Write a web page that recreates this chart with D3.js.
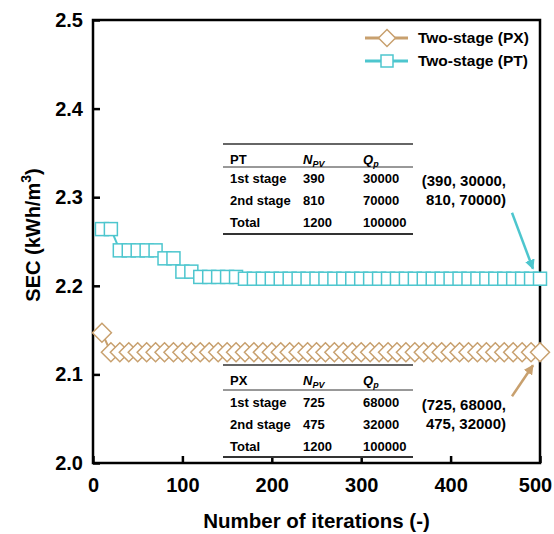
<!DOCTYPE html>
<head>
  <meta charset="utf-8">
  <script src="https://d3js.org/d3.v7.min.js"></script>
  <style>
body { margin: 0; background: #fff; }
text { font-family: "Liberation Sans", Arial, sans-serif; font-weight: bold; fill: #000; }
.tick text { font-size: 20px; }
.tbl text { font-size: 13px; }
.note { font-size: 15px; }
  </style>
</head>
<body>
  <script>
    // data
    var iterations = [10, 20, 30, 40, 50, 60, 70, 80, 90, 100,
                      110, 120, 130, 140, 150, 160, 170, 180, 190, 200,
                      210, 220, 230, 240, 250, 260, 270, 280, 290, 300,
                      310, 320, 330, 340, 350, 360, 370, 380, 390, 400,
                      410, 420, 430, 440, 450, 460, 470, 480, 490, 500];
    var secPX = [2.147, 2.125, 2.125, 2.125, 2.125, 2.125, 2.125, 2.125, 2.125, 2.125,
                 2.125, 2.125, 2.125, 2.125, 2.125, 2.125, 2.125, 2.125, 2.125, 2.125,
                 2.125, 2.125, 2.125, 2.125, 2.125, 2.125, 2.125, 2.125, 2.125, 2.125,
                 2.125, 2.125, 2.125, 2.125, 2.125, 2.125, 2.125, 2.125, 2.125, 2.125,
                 2.125, 2.125, 2.125, 2.125, 2.125, 2.125, 2.125, 2.125, 2.125, 2.125];
    var secPT = [2.264, 2.264, 2.240, 2.240, 2.240, 2.240, 2.240, 2.231, 2.231, 2.216,
                 2.216, 2.210, 2.210, 2.210, 2.210, 2.210, 2.208, 2.208, 2.208, 2.208,
                 2.208, 2.208, 2.208, 2.208, 2.208, 2.208, 2.208, 2.208, 2.208, 2.208,
                 2.208, 2.208, 2.208, 2.208, 2.208, 2.208, 2.208, 2.208, 2.208, 2.208,
                 2.208, 2.208, 2.208, 2.208, 2.208, 2.208, 2.208, 2.208, 2.208, 2.208];
    var seriesNames = ["Two-stage (PX)", "Two-stage (PT)"];
    var xTicks = [0, 100, 200, 300, 400, 500];
    var yTicks = [2.0, 2.1, 2.2, 2.3, 2.4, 2.5];

    var ptRows = [["1st stage", "390", "30000"], ["2nd stage", "810", "70000"], ["Total", "1200", "100000"]];
    var pxRows = [["1st stage", "725", "68000"], ["2nd stage", "475", "32000"], ["Total", "1200", "100000"]];
    var ptNote = ["(390, 30000,", "810, 70000)"];
    var pxNote = ["(725, 68000,", "475, 32000)"];

    var cPX = "#c8a06e", cPT = "#4dc6ce";

    var svg = d3.select("body").append("svg")
      .attr("width", 554)
      .attr("height", 534);

    var x = d3.scaleLinear().domain([0, 500]).range([93, 540]);
    var y = d3.scaleLinear().domain([2.0, 2.5]).range([463, 20]);

    // axes, ticks pointing inward
    svg.append("g")
      .attr("transform", "translate(0,463)")
      .call(d3.axisBottom(x).tickValues(xTicks).tickSizeInner(-7).tickSizeOuter(0).tickPadding(15))
      .call(g => g.select(".domain").remove())
      .call(g => g.selectAll("line").attr("stroke-width", 2.5))
      .call(g => g.selectAll(".tick text").filter(d => d === 500).attr("dx", -5));
    svg.append("g")
      .attr("transform", "translate(93,0)")
      .call(d3.axisLeft(y).tickValues(yTicks).tickFormat(d3.format(".1f")).tickSizeInner(-7).tickSizeOuter(0).tickPadding(10))
      .call(g => g.select(".domain").remove())
      .call(g => g.selectAll("line").attr("stroke-width", 2.5));

    svg.append("rect")
      .attr("x", x(0)).attr("y", y(2.5))
      .attr("width", x(500) - x(0)).attr("height", y(2.0) - y(2.5))
      .attr("fill", "none").attr("stroke", "#000").attr("stroke-width", 2.5);

    // axis titles
    svg.append("text")
      .attr("x", (x(0) + x(500)) / 2).attr("y", 528)
      .attr("text-anchor", "middle").style("font-size", "20.5px")
      .text("Number of iterations (-)");
    var yl = svg.append("text")
      .attr("transform", "translate(40,235) rotate(-90)")
      .attr("text-anchor", "middle").style("font-size", "20px");
    yl.append("tspan").text("SEC (kWh/m");
    yl.append("tspan").attr("dy", -9).style("font-size", "14px").text("3");
    yl.append("tspan").attr("dy", 9).text(")");

    // tables
    function drawTable(top, headLine, bottom, rowY, label, rows) {
      var g = svg.append("g").attr("class", "tbl");
      [[top, 1.6], [headLine, 1], [bottom, 1.8]].forEach(function(l) {
        g.append("line").attr("x1", 223).attr("x2", 413)
          .attr("y1", l[0]).attr("y2", l[0])
          .attr("stroke", "#333").attr("stroke-width", l[1]);
      });
      var colX = [230, 303, 363];
      g.append("text").attr("x", colX[0]).attr("y", rowY[0]).attr("dy", ".35em").text(label);
      var n = g.append("text").attr("x", colX[1]).attr("y", rowY[0]).attr("dy", ".35em").style("font-style", "italic");
      n.append("tspan").text("N");
      n.append("tspan").attr("dy", 3).style("font-size", "9px").text("PV");
      var q = g.append("text").attr("x", colX[2]).attr("y", rowY[0]).attr("dy", ".35em").style("font-style", "italic");
      q.append("tspan").text("Q");
      q.append("tspan").attr("dy", 3).style("font-size", "9px").text("p");
      rows.forEach(function(r, i) {
        r.forEach(function(cell, j) {
          g.append("text").attr("x", colX[j]).attr("y", rowY[i + 1]).attr("dy", ".35em").text(cell);
        });
      });
    }
    drawTable(144, 167, 234, [159, 178, 200, 222], "PT", ptRows);
    drawTable(365, 390, 457, [380, 402, 424, 446], "PX", pxRows);

    // series
    var ptData = iterations.map((d, i) => ({ it: d, v: secPT[i] }));
    var pxData = iterations.map((d, i) => ({ it: d, v: secPX[i] }));
    var line = d3.line().x(d => x(d.it)).y(d => y(d.v));

    svg.append("path").datum(ptData).attr("d", line)
      .attr("fill", "none").attr("stroke", cPT).attr("stroke-width", 2);
    svg.selectAll(".pt").data(ptData).enter().append("rect")
      .attr("class", "pt")
      .attr("x", d => x(d.it) - 6.5).attr("y", d => y(d.v) - 6.5)
      .attr("width", 13).attr("height", 13)
      .attr("fill", "#fff").attr("stroke", cPT).attr("stroke-width", 1.5);

    svg.append("path").datum(pxData).attr("d", line)
      .attr("fill", "none").attr("stroke", cPX).attr("stroke-width", 2);
    var diamond = "M0,-9.5L9.5,0L0,9.5L-9.5,0Z";
    svg.selectAll(".px").data(pxData).enter().append("path")
      .attr("class", "px")
      .attr("transform", d => "translate(" + x(d.it) + "," + y(d.v) + ")")
      .attr("d", diamond)
      .attr("fill", "#fff").attr("stroke", cPX).attr("stroke-width", 1.5);

    // legend
    var legend = svg.append("g");
    [[38, cPX, "diamond"], [61, cPT, "square"]].forEach(function(l, i) {
      legend.append("line").attr("x1", 365).attr("x2", 408).attr("y1", l[0]).attr("y2", l[0])
        .attr("stroke", l[1]).attr("stroke-width", 3);
      if (l[2] === "diamond") {
        legend.append("path").attr("transform", "translate(387," + l[0] + ")")
          .attr("d", "M0,-8.5L8.5,0L0,8.5L-8.5,0Z")
          .attr("fill", "#fff").attr("stroke", l[1]).attr("stroke-width", 1.5);
      } else {
        legend.append("rect").attr("x", 381).attr("y", l[0] - 6).attr("width", 12).attr("height", 12)
          .attr("fill", "#fff").attr("stroke", l[1]).attr("stroke-width", 1.5);
      }
      legend.append("text").attr("x", 418).attr("y", l[0]).attr("dy", ".35em")
        .style("font-size", "15.5px").text(seriesNames[i]);
    });

    // annotations with arrows
    var defs = svg.append("defs");
    [["headPT", cPT], ["headPX", cPX]].forEach(function(m) {
      defs.append("marker").attr("id", m[0])
        .attr("viewBox", "0 0 10 10").attr("refX", 9).attr("refY", 5)
        .attr("markerWidth", 4).attr("markerHeight", 4).attr("orient", "auto")
        .append("path").attr("d", "M0,0L10,5L0,10Z").attr("fill", m[1]);
    });
    var lastPT = ptData[ptData.length - 1], lastPX = pxData[pxData.length - 1];
    svg.append("line")
      .attr("x1", x(lastPT.it) - 28).attr("y1", y(lastPT.v) - 66)
      .attr("x2", x(lastPT.it) - 7).attr("y2", y(lastPT.v) - 10)
      .attr("stroke", cPT).attr("stroke-width", 2.5).attr("marker-end", "url(#headPT)");
    svg.append("line")
      .attr("x1", x(lastPX.it) - 28).attr("y1", y(lastPX.v) + 44)
      .attr("x2", x(lastPX.it) - 7).attr("y2", y(lastPX.v) + 13)
      .attr("stroke", cPX).attr("stroke-width", 2.5).attr("marker-end", "url(#headPX)");

    [[ptNote, 181], [pxNote, 405]].forEach(function(n) {
      n[0].forEach(function(s, i) {
        svg.append("text").attr("class", "note")
          .attr("x", 506).attr("y", n[1] + i * 19).attr("dy", ".35em")
          .attr("text-anchor", "end").text(s);
      });
    });
  </script>
</body>
